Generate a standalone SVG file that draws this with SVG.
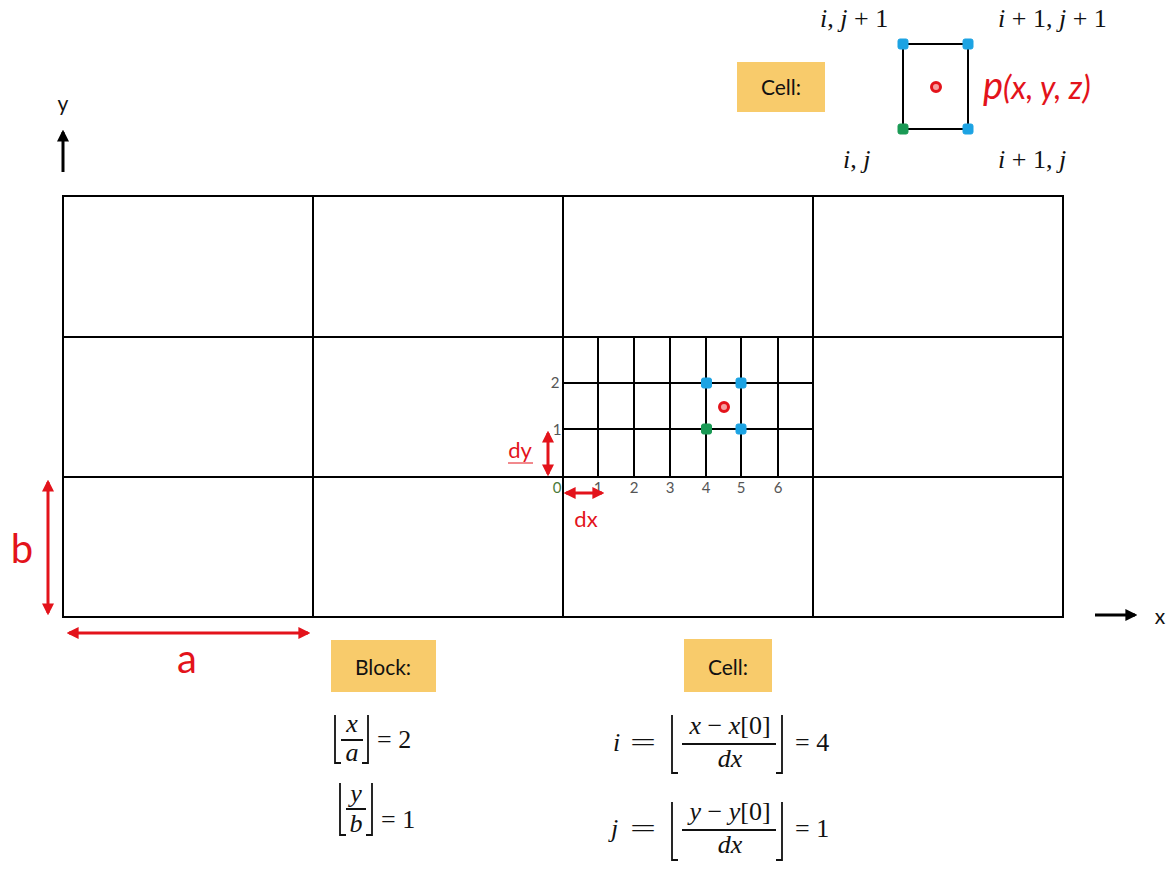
<svg xmlns="http://www.w3.org/2000/svg" width="1172" height="872" viewBox="0 0 1172 872">
<style>
.g{stroke:#000;stroke-width:2;fill:none}
.red{stroke:#E3131B;stroke-width:3;fill:none}
.ax{stroke:#000;stroke-width:3;fill:none}
.box{fill:#F8CB6B}
.lbl{font-family:Lato,"Liberation Sans",sans-serif;font-size:21px;fill:#111;text-anchor:middle}
.m{font-family:"Liberation Serif",serif;font-style:normal;font-size:26px;fill:#111}
.mi{font-family:"Liberation Serif",serif;font-style:italic;font-size:26px;fill:#111}
.n{font-family:Lato,"Liberation Sans",sans-serif;font-size:15px;fill:#555;text-anchor:middle}
.rt{font-family:Lato,"Liberation Sans",sans-serif;fill:#E3131B}
.br{stroke:#111;stroke-width:1.8;fill:none}
.bl{fill:#1CA3E3;stroke:#1CA3E3;stroke-width:1}
.gr{fill:#1A9A55;stroke:#1A9A55;stroke-width:1}
.dot{fill:#F5A0A0;stroke:#E3131B;stroke-width:3}
</style>
<defs>
<marker id="ra" viewBox="0 0 10 10" refX="8" refY="5" markerWidth="4" markerHeight="4" orient="auto-start-reverse"><path d="M0,0 L10,5 L0,10 z" fill="#E3131B"/></marker>
<marker id="ka" viewBox="0 0 10 10" refX="8" refY="5" markerWidth="4" markerHeight="4" orient="auto"><path d="M0,0 L10,5 L0,10 z" fill="#000"/></marker>
</defs>

<g id="main-grid">
<rect class="g" x="63" y="196" width="1000" height="421"/>
<path class="g" d="M313,196V617M563,196V617M813,196V617M63,337H1063M63,477H1063"/>
</g>

<g id="fine-grid">
<path class="g" d="M598,337V477M634,337V477M670,337V477M706,337V477M741,337V477M778,337V477M563,383H813M563,429H813"/>
<text class="n" x="555" y="388">2</text>
<text class="n" x="557" y="435">1</text>
<text class="n" x="557" y="493" style="fill:#4A7A3A">0</text>
<text class="n" x="598" y="493">1</text>
<text class="n" x="634" y="493">2</text>
<text class="n" x="670" y="493">3</text>
<text class="n" x="706" y="493">4</text>
<text class="n" x="741" y="493">5</text>
<text class="n" x="778" y="493">6</text>
</g>

<g id="grid-points">
<rect class="bl" x="701.5" y="378" width="10" height="10" rx="2"/>
<rect class="bl" x="736" y="378" width="10" height="10" rx="2"/>
<rect class="bl" x="736" y="424" width="10" height="10" rx="2"/>
<rect class="gr" x="701.5" y="424" width="10" height="10" rx="2"/>
<circle class="dot" cx="724" cy="407" r="4.5"/>
</g>

<g id="connectors">
<line class="ax" x1="63" y1="172" x2="63" y2="132" marker-end="url(#ka)"/>
<line class="ax" x1="1095" y1="615" x2="1135" y2="615" marker-end="url(#ka)"/>
<line class="red" x1="48" y1="482" x2="48" y2="613" marker-start="url(#ra)" marker-end="url(#ra)"/>
<line class="red" x1="69" y1="633" x2="308" y2="633" marker-start="url(#ra)" marker-end="url(#ra)"/>
<line class="red" x1="548" y1="433" x2="548" y2="474" marker-start="url(#ra)" marker-end="url(#ra)"/>
<line class="red" x1="566" y1="493" x2="602" y2="493" marker-start="url(#ra)" marker-end="url(#ra)"/>
</g>

<g id="axis-labels">
<text class="lbl" x="63" y="111" font-size="23">y</text>
<text class="lbl" x="1160" y="624" font-size="23">x</text>
</g>

<g id="dim-labels">
<text class="rt" x="22" y="563" font-size="40" text-anchor="middle">b</text>
<text class="rt" x="187" y="673" font-size="40" text-anchor="middle">a</text>
<text class="rt" x="520" y="458" font-size="22" text-anchor="middle">dy</text>
<line x1="508" y1="463" x2="533" y2="463" stroke="#E3131B" stroke-width="1"/>
<text class="rt" x="586" y="527" font-size="22" text-anchor="middle">dx</text>
</g>

<g id="cell-legend">
<rect class="box" x="737" y="62" width="88" height="50"/>
<text class="lbl" x="781" y="95">Cell:</text>
<rect x="903" y="44" width="65" height="85" class="g"/>
<rect class="bl" x="898" y="39" width="10" height="10" rx="2"/>
<rect class="bl" x="963" y="39" width="10" height="10" rx="2"/>
<rect class="bl" x="963" y="124" width="10" height="10" rx="2"/>
<rect class="gr" x="898" y="124" width="10" height="10" rx="2"/>
<circle class="dot" cx="936" cy="87" r="4.5"/>
<text class="rt" x="983" y="99" font-size="32" font-style="italic"><tspan font-size="38">p</tspan>(x, y, z)</text>
<text class="mi" x="820" y="27">i<tspan class="m">,</tspan> j <tspan class="m">+ 1</tspan></text>
<text class="mi" x="998" y="27">i <tspan class="m">+ 1,</tspan> j <tspan class="m">+ 1</tspan></text>
<text class="mi" x="843" y="168">i<tspan class="m">,</tspan> j</text>
<text class="mi" x="998" y="168">i <tspan class="m">+ 1,</tspan> j</text>
</g>

<g id="block-formula">
<rect class="box" x="331" y="640" width="105" height="52"/>
<text class="lbl" x="383" y="675">Block:</text>
<path class="br" d="M335,715V763H341M368,715V763H362M341,740H363"/>
<text class="mi" x="352" y="732" text-anchor="middle" font-size="24">x</text>
<text class="mi" x="352" y="761" text-anchor="middle" font-size="24">a</text>
<text class="m" x="377" y="748">= 2</text>
<path class="br" d="M340,783V835H346M372,783V835H366M346,809H366"/>
<text class="mi" x="356" y="802" text-anchor="middle" font-size="24">y</text>
<text class="mi" x="356" y="832" text-anchor="middle" font-size="24">b</text>
<text class="m" x="381" y="828">= 1</text>
</g>

<g id="cell-formula">
<rect class="box" x="684" y="639" width="88" height="53"/>
<text class="lbl" x="728" y="675">Cell:</text>
<text class="mi" x="613" y="751">i</text>
<text class="m" x="630" y="751" textLength="26" lengthAdjust="spacingAndGlyphs">=</text>
<path class="br" d="M672,715V773H678M782,715V773H776M682,744H776"/>
<text class="mi" x="730" y="734" text-anchor="middle">x <tspan class="m">−</tspan> x<tspan class="m">[0]</tspan></text>
<text class="mi" x="730" y="767" text-anchor="middle">dx</text>
<text class="m" x="795" y="751">= 4</text>
<text class="mi" x="611" y="837">j</text>
<text class="m" x="630" y="837" textLength="26" lengthAdjust="spacingAndGlyphs">=</text>
<path class="br" d="M672,802V860H678M782,802V860H776M682,830H776"/>
<text class="mi" x="730" y="820" text-anchor="middle">y <tspan class="m">−</tspan> y<tspan class="m">[0]</tspan></text>
<text class="mi" x="730" y="853" text-anchor="middle">dx</text>
<text class="m" x="795" y="837">= 1</text>
</g>
</svg>
